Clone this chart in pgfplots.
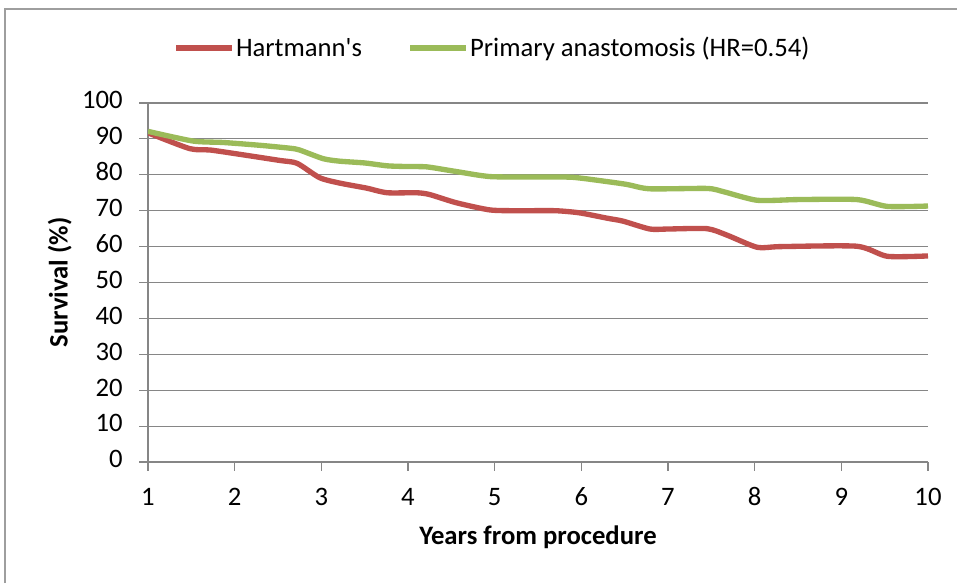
\documentclass[border=0pt]{standalone}
\usepackage{pgfplots}
\pgfplotsset{compat=1.18}
\usepackage{fontspec}
\setmainfont{Carlito}
\definecolor{hred}{HTML}{C0504D}
\definecolor{pgreen}{HTML}{9BBB59}
\definecolor{gridg}{HTML}{868686}
\begin{document}
\begin{tikzpicture}
\useasboundingbox (0pt,0pt) rectangle (717.75pt,437.25pt);
\draw[gridg!80, line width=1pt] (3.75pt,0pt) -- (3.75pt,430.5pt) -- (717.75pt,430.5pt);
\begin{axis}[
  at={(111pt,90.75pt)}, anchor=origin,
  scale only axis, width=585pt, height=269.25pt,
  xmin=1, xmax=10, ymin=0, ymax=100,
  xtick={1,...,10}, ytick={0,10,...,100},
  axis x line*=bottom, axis y line*=left,
  axis line style={gridg, line width=0.8pt, -},
  ymajorgrids, grid style={gridg, line width=0.8pt},
  tick style={gridg, line width=0.8pt},
  tick align=outside, major tick length=6.5pt,
  /pgf/number format/assume math mode=true,
  typeset ticklabels with strut,
  ticklabel style={font=\fontsize{20}{22}\selectfont},
  xticklabel style={yshift=-7pt},
  yticklabel style={xshift=-9pt},
  xlabel={\textbf{Years from procedure}},
  ylabel={\textbf{Survival (\%)}},
  label style={font=\fontsize{20}{22}\selectfont},
  xlabel style={at={(axis description cs:0.5,0)}, anchor=center, yshift=-56.5pt},
  ylabel style={at={(axis description cs:-0.113,0.5)}, anchor=center},
  legend columns=2,
  legend style={at={(axis description cs:0.442,1.153)}, anchor=center, draw=none, fill=none,
    font=\fontsize{20}{22}\selectfont, /tikz/every even column/.append style={column sep=32pt},
    /tikz/every odd column/.append style={column sep=-1pt}},
  legend image code/.code={\draw[#1, line width=4pt] (0,0) -- (42pt,0);},
]
\addplot[hred, line width=4pt, smooth, tension=0.4] coordinates {
(1,91.7) (1.48,87.3) (1.72,86.9) (2.06,85.7) (2.52,84.0) (2.72,83.2) (2.98,79.2)
(3.21,77.7) (3.52,76.3) (3.76,75.0) (4.1,75.0) (4.25,74.5) (4.56,72.2) (4.95,70.2)
(5.3,70.0) (5.7,70.0) (5.98,69.4) (6.3,67.9) (6.48,67.1) (6.79,64.9) (7.0,64.9)
(7.45,65.0) (7.68,63.2) (8.03,59.8) (8.3,60.0) (9.18,60.1) (9.53,57.3) (10,57.4)};
\addlegendentry{Hartmann\textquotesingle s}
\addplot[pgreen, line width=4pt, smooth, tension=0.4] coordinates {
(1,92.1) (1.52,89.4) (1.87,89.0) (2.3,88.2) (2.64,87.4) (2.75,86.9) (3.02,84.5)
(3.21,83.8) (3.5,83.3) (3.76,82.5) (3.99,82.3) (4.22,82.2) (4.56,80.9) (4.95,79.5)
(5.5,79.4) (5.9,79.3) (6.3,78.1) (6.53,77.3) (6.79,76.1) (7.45,76.2) (7.64,75.3)
(8.03,72.9) (8.5,73.1) (9.18,73.1) (9.53,71.2) (10,71.3)};
\addlegendentry{Primary anastomosis (HR=0.54)}
\end{axis}
\end{tikzpicture}
\end{document}
